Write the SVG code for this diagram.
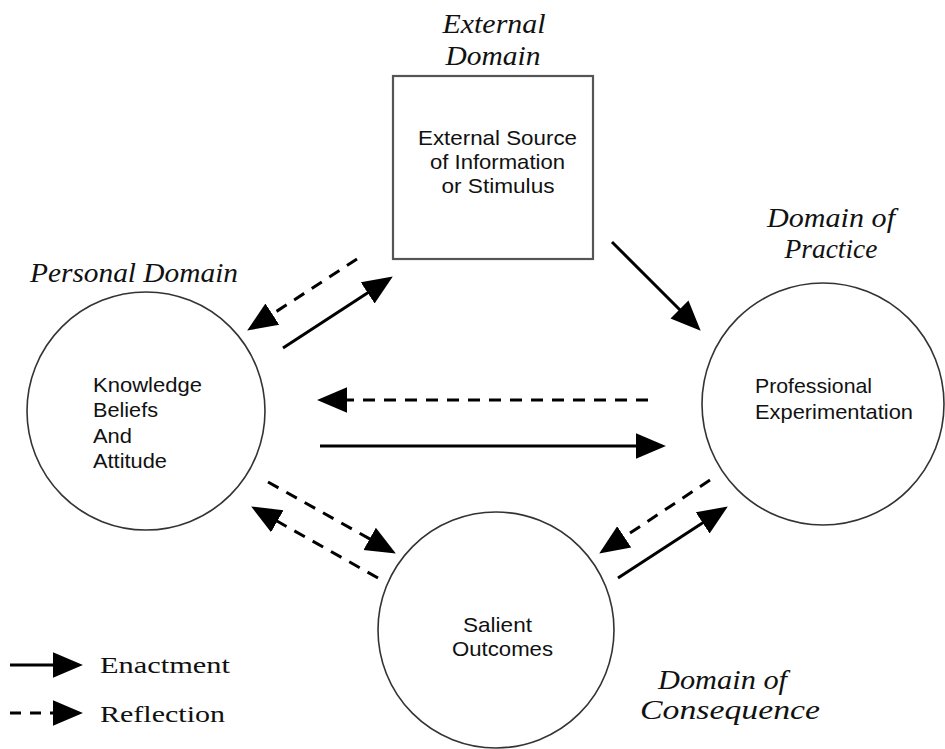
<svg xmlns="http://www.w3.org/2000/svg" width="945" height="749" viewBox="0 0 945 749">
<style>
.bg{fill:#fff}
.node{fill:#fff;stroke:#333;stroke-width:1.6}
.box{fill:#fff;stroke:#555;stroke-width:2.2}
.sans{font-family:"Liberation Sans",Arial,sans-serif;font-size:21px;fill:#111}
.dom{font-family:"Liberation Serif","Times New Roman",serif;font-style:italic;font-size:27px;fill:#111}
.leg{font-family:"Liberation Serif","Times New Roman",serif;font-size:24px;fill:#111}
.solid{stroke:#000;stroke-width:3;fill:none;marker-end:url(#ah)}
.dash{stroke:#000;stroke-width:3;fill:none;stroke-dasharray:12 9;marker-end:url(#ah)}
</style>
<defs>
<marker id="ah" markerUnits="userSpaceOnUse" markerWidth="30" markerHeight="30" refX="20" refY="11" orient="auto" viewBox="0 0 26 22">
<path d="M0,0 L26,11 L0,22 z" fill="#000"/>
</marker>
</defs>
<rect class="bg" x="0" y="0" width="945" height="749"/>

<g id="external-domain-label">
<text class="dom" x="494" y="33" text-anchor="middle" textLength="103" lengthAdjust="spacingAndGlyphs">External</text>
<text class="dom" x="493" y="65" text-anchor="middle" textLength="95" lengthAdjust="spacingAndGlyphs">Domain</text>
</g>
<g id="external-source">
<rect class="box" x="393" y="76" width="200" height="183"/>
<text class="sans" x="497.5" y="145" text-anchor="middle" textLength="159" lengthAdjust="spacingAndGlyphs">External Source</text>
<text class="sans" x="497.5" y="169" text-anchor="middle" textLength="135" lengthAdjust="spacingAndGlyphs">of Information</text>
<text class="sans" x="498" y="193" text-anchor="middle" textLength="113" lengthAdjust="spacingAndGlyphs">or Stimulus</text>
</g>

<g id="personal-domain-label">
<text class="dom" x="30" y="282" textLength="208" lengthAdjust="spacingAndGlyphs">Personal Domain</text>
</g>
<g id="knowledge">
<circle class="node" cx="146" cy="411" r="119"/>
<text class="sans" x="93" y="392" textLength="109" lengthAdjust="spacingAndGlyphs">Knowledge</text>
<text class="sans" x="93" y="417" textLength="65" lengthAdjust="spacingAndGlyphs">Beliefs</text>
<text class="sans" x="93" y="443" textLength="39" lengthAdjust="spacingAndGlyphs">And</text>
<text class="sans" x="93" y="468" textLength="74" lengthAdjust="spacingAndGlyphs">Attitude</text>
</g>

<g id="practice-domain-label">
<text class="dom" x="831" y="227" text-anchor="middle" textLength="128" lengthAdjust="spacingAndGlyphs">Domain of</text>
<text class="dom" x="831" y="258" text-anchor="middle" textLength="93" lengthAdjust="spacingAndGlyphs">Practice</text>
</g>
<g id="professional">
<circle class="node" cx="823" cy="404" r="121"/>
<text class="sans" x="755" y="393" textLength="117" lengthAdjust="spacingAndGlyphs">Professional</text>
<text class="sans" x="755" y="419" textLength="158" lengthAdjust="spacingAndGlyphs">Experimentation</text>
</g>

<g id="salient">
<circle class="node" cx="496" cy="630" r="118"/>
<text class="sans" x="497.5" y="632" text-anchor="middle" textLength="69" lengthAdjust="spacingAndGlyphs">Salient</text>
<text class="sans" x="502.5" y="656" text-anchor="middle" textLength="101" lengthAdjust="spacingAndGlyphs">Outcomes</text>
</g>
<g id="consequence-domain-label">
<text class="dom" x="658" y="689" textLength="129" lengthAdjust="spacingAndGlyphs">Domain of</text>
<text class="dom" x="640" y="719" textLength="180" lengthAdjust="spacingAndGlyphs">Consequence</text>
</g>

<g id="connectors">
<line class="dash" x1="357" y1="259" x2="253" y2="326.7"/>
<line class="solid" x1="283" y1="348" x2="387" y2="280.3"/>
<line class="solid" x1="612" y1="242" x2="695.8" y2="325.8"/>
<line class="dash" x1="648" y1="400" x2="324" y2="400"/>
<line class="solid" x1="320" y1="446" x2="659" y2="446"/>
<line class="dash" x1="268" y1="482" x2="389.8" y2="550.1"/>
<line class="dash" x1="378" y1="578" x2="257.2" y2="509.9"/>
<line class="dash" x1="710" y1="480" x2="605" y2="549.7"/>
<line class="solid" x1="618" y1="578" x2="722" y2="510.3"/>
</g>

<g id="legend">
<line class="solid" x1="10" y1="665" x2="76" y2="665"/>
<text class="leg" x="100" y="673" textLength="130" lengthAdjust="spacingAndGlyphs">Enactment</text>
<line class="dash" x1="10" y1="713" x2="76" y2="713" style="stroke-dasharray:11 9"/>
<text class="leg" x="100" y="722" textLength="125" lengthAdjust="spacingAndGlyphs">Reflection</text>
</g>
</svg>
